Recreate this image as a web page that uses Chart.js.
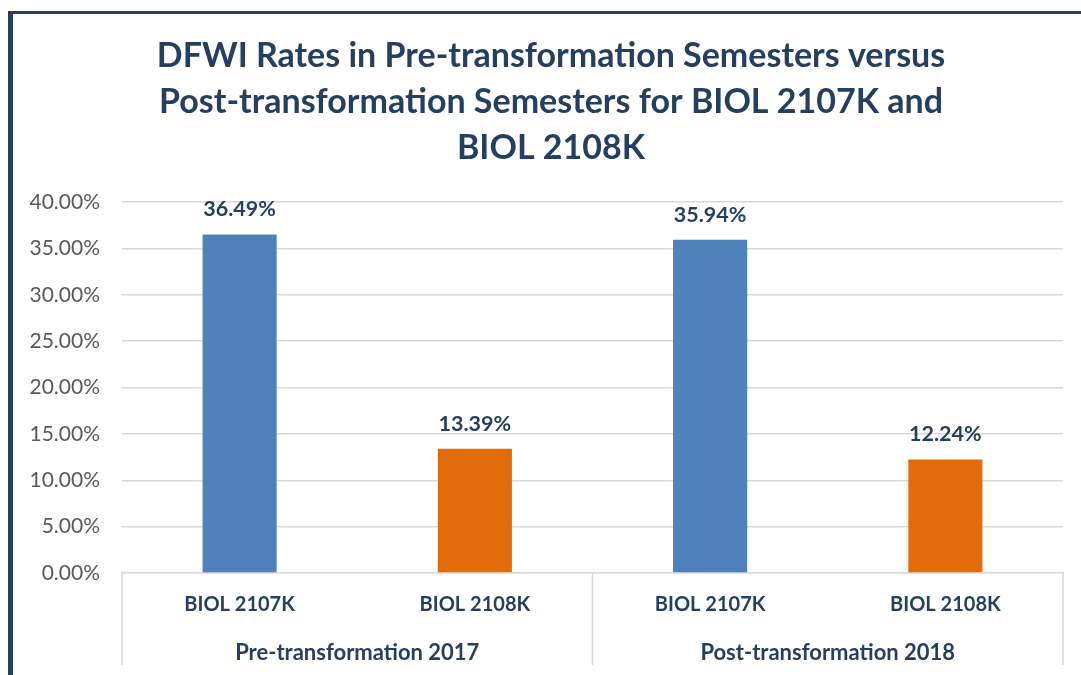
<!DOCTYPE html>
<html>
<head>
<meta charset="utf-8">
<script src="https://cdn.jsdelivr.net/npm/chart.js@4"></script>
<style>
  html, body { margin: 0; padding: 0; background: #fff; }
  #wrap { position: relative; width: 1081px; height: 675px; }
</style>
</head>
<body>
<div id="wrap"><canvas id="dfwi"></canvas></div>
<script>
const courses = ['BIOL 2107K', 'BIOL 2108K', 'BIOL 2107K', 'BIOL 2108K'];
const groups = ['Pre-transformation 2017', 'Post-transformation 2018'];
const rates = [36.49, 13.39, 35.94, 12.24];
const barColors = ['#4F81BD', '#E36C0A', '#4F81BD', '#E36C0A'];
const titleLines = [
  'DFWI Rates in Pre-transformation Semesters versus',
  'Post-transformation Semesters for BIOL 2107K and',
  'BIOL 2108K'
];

const navy = '#243F60';
const fontName = 'Lato, "Open Sans", sans-serif';

// frame lines on left and top, like the cropped chart border
const framePlugin = {
  id: 'frame',
  beforeDraw(chart) {
    const c = chart.ctx;
    c.save();
    c.fillStyle = '#fff';
    c.fillRect(0, 0, chart.width, chart.height);
    c.fillStyle = navy;
    c.fillRect(8, 11, 5, chart.height - 11);
    c.fillRect(8, 11, chart.width - 8, 3);
    c.restore();
  }
};

// title drawn by hand: centred on the framed box, not the canvas
const titlePlugin = {
  id: 'bigTitle',
  afterDraw(chart) {
    const c = chart.ctx;
    c.save();
    c.font = 'bold 34px ' + fontName;
    c.fillStyle = navy;
    c.textAlign = 'center';
    c.textBaseline = 'middle';
    titleLines.forEach((line, i) => {
      c.fillText(line, 551, 56 + i * 46);
    });
    c.restore();
  }
};

// value labels above each bar
const valueLabels = {
  id: 'valueLabels',
  afterDatasetsDraw(chart) {
    const c = chart.ctx;
    const meta = chart.getDatasetMeta(0);
    c.save();
    c.font = 'bold 21.5px ' + fontName;
    c.fillStyle = navy;
    c.textAlign = 'center';
    c.textBaseline = 'middle';
    meta.data.forEach((bar, i) => {
      c.fillText(rates[i].toFixed(2) + '%', bar.x, bar.y - 25);
    });
    c.restore();
  }
};

// separators of the two-level category axis
const groupLines = {
  id: 'groupLines',
  afterDraw(chart) {
    const x = chart.scales.x;
    const x2 = chart.scales.x2;
    const c = chart.ctx;
    const mid = (x.getPixelForValue(1) + x.getPixelForValue(2)) / 2;
    c.save();
    c.strokeStyle = '#D9D9D9';
    c.lineWidth = 1.5;
    [x.left, mid, x.right].forEach(px => {
      c.beginPath();
      c.moveTo(px, chart.chartArea.bottom);
      c.lineTo(px, x2.bottom - 10);
      c.stroke();
    });
    c.restore();
  }
};

new Chart('dfwi', {
  type: 'bar',
  data: {
    labels: courses,
    datasets: [
      {
        data: rates,
        backgroundColor: barColors,
        categoryPercentage: 1,
        barPercentage: 0.315,
      },
    ],
  },
  options: {
    responsive: true,
    maintainAspectRatio: false,
    animation: false,
    layout: { padding: { left: 14, right: 18, top: 202, bottom: 0 } },
    plugins: {
      legend: { display: false },
      tooltip: { enabled: false },
      title: { display: false },
    },
    scales: {
      y: {
        min: 0,
        max: 40,
        ticks: {
          stepSize: 5,
          color: '#595959',
          font: { family: fontName, size: 21 },
          padding: 22,
          callback: v => v.toFixed(2) + '%',
        },
        grid: { color: '#D9D9D9', lineWidth: 1.5, drawTicks: false },
        border: { display: false },
        afterFit(scale) { scale.width = 108; },
      },
      x: {
        ticks: {
          color: navy,
          font: { family: fontName, size: 20, weight: 'bold' },
          padding: 12,
          maxRotation: 0,
          autoSkip: false,
        },
        grid: { display: false },
        border: { display: true, color: '#D9D9D9', width: 1.5 },
        afterFit(scale) { scale.height = 52; },
      },
      x2: {
        type: 'category',
        labels: groups,
        position: 'bottom',
        offset: true,
        ticks: {
          color: navy,
          font: { family: fontName, size: 22, weight: 'bold' },
          padding: 7,
          maxRotation: 0,
        },
        grid: { display: false },
        border: { display: false },
        afterFit(scale) { scale.height = 50; },
      },
    },
  },
  plugins: [framePlugin, titlePlugin, valueLabels, groupLines],
});
</script>
</body>
</html>
